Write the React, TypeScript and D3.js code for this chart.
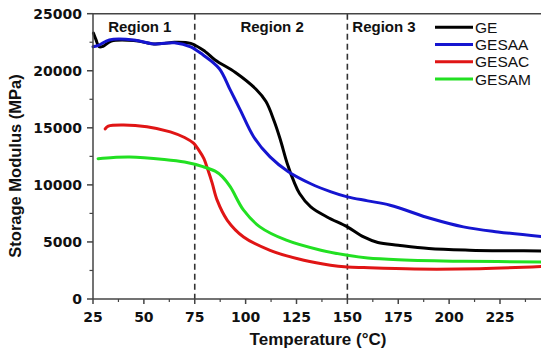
import * as d3 from "d3";

// temperature (°C), storage modulus (MPa)
const geData: [number, number][] = [
  [25.2, 23300], [26.5, 22700], [28, 22100], [30, 22150], [34, 22600], [45, 22650],
  [55, 22350], [60, 22400], [65, 22500], [73, 22400], [80, 21700], [85, 20950],
  [95, 19850], [105, 18400], [110, 17300], [114, 15600], [117, 14000], [120.4, 11900],
  [123.7, 10300], [126.5, 9250], [132, 8070], [140, 7190], [150, 6320], [158, 5440],
  [165, 4950], [175, 4710], [190, 4420], [210, 4280], [230, 4230], [247, 4210],
];
const gesaaData: [number, number][] = [
  [25, 22100], [28, 22250], [33, 22700], [45, 22700], [55, 22350], [65, 22450],
  [73, 22100], [79, 21400], [87, 20200], [92.5, 18300], [97.4, 16550], [104, 14200],
  [112, 12450], [121, 11150], [132, 10100], [142, 9390], [150, 8950], [160, 8600],
  [171, 8220], [191, 7050], [207, 6320], [224, 5880], [247, 5440],
];
const gesacData: [number, number][] = [
  [31, 14900], [32.5, 15150], [40, 15250], [51.5, 15100], [63, 14650], [70, 14150],
  [74.4, 13650], [77, 13050], [79.5, 12300], [81.5, 11300], [83.5, 10200], [86, 8660],
  [91, 6900], [99, 5440], [112, 4270], [128.6, 3390], [141.7, 2960], [150, 2810],
  [158, 2750], [183, 2620], [215, 2650], [247, 2870],
];
const gesamData: [number, number][] = [
  [27.5, 12300], [35, 12400], [43, 12450], [60, 12230], [70, 12000], [79, 11600],
  [85, 11200], [88.4, 10750], [92.5, 9820], [99, 7780], [107, 6320], [120, 5150],
  [137, 4270], [150, 3830], [160, 3600], [175, 3450], [207, 3310], [247, 3250],
];

const seriesNames = ["GE", "GESAA", "GESAC", "GESAM"];
const seriesColors = ["#000000", "#1515d0", "#e01515", "#22e022"];
const seriesData = [geData, gesaaData, gesacData, gesamData];

const xTicks = [25, 50, 75, 100, 125, 150, 175, 200, 225];
const yTicks = [0, 5000, 10000, 15000, 20000, 25000];
const regionLabels = ["Region 1", "Region 2", "Region 3"];
const regionCenters = [48, 113, 168]; // temperature at label centre
const regionBounds = [75, 150];

const W = 541, H = 352;
const left = 93, top = 13.7, bottom = 299;

export default function App() {
  const x = d3.scaleLinear().domain([25, 250]).range([left, left + 225 * 2.035]);
  const y = d3.scaleLinear().domain([0, 25000]).range([bottom, top]);
  const line = d3.line<[number, number]>()
    .x(d => x(d[0]))
    .y(d => y(d[1]))
    .curve(d3.curveCatmullRom.alpha(0.5));

  const xMinor = d3.range(37.5, 250, 25);
  const yMinor = d3.range(2500, 25000, 5000);
  const axisColor = "#444";
  const tickFont = "'DejaVu Sans', sans-serif";
  const titleFont = "'Liberation Sans', Arial, sans-serif";

  return (
    <svg width={W} height={H} style={{ position: "absolute", left: 0, top: 0, background: "#fff" }}>
      {/* region dividers */}
      {regionBounds.map(t => (
        <line key={t} x1={x(t)} x2={x(t)} y1={top} y2={bottom}
          stroke="#333" strokeWidth={1.6} strokeDasharray="6,4" />
      ))}

      {/* curves */}
      {seriesData.map((d, i) => (
        <path key={seriesNames[i]} d={line(d) ?? ""} fill="none"
          stroke={seriesColors[i]} strokeWidth={3} strokeLinejoin="round" strokeLinecap="round" />
      ))}

      {/* frame */}
      <line x1={left} x2={W} y1={top} y2={top} stroke={axisColor} strokeWidth={1.5} />
      <line x1={left} x2={W} y1={bottom} y2={bottom} stroke={axisColor} strokeWidth={1.5} />
      <line x1={left} x2={left} y1={top} y2={bottom} stroke={axisColor} strokeWidth={1.5} />

      {/* x ticks */}
      {xTicks.map(t => (
        <g key={t}>
          <line x1={x(t)} x2={x(t)} y1={bottom} y2={bottom + 5} stroke={axisColor} strokeWidth={1.5} />
          <text x={x(t)} y={321.5} textAnchor="middle" fontFamily={tickFont}
            fontWeight="bold" fontSize={14} fill="#111">{t}</text>
        </g>
      ))}
      {xMinor.map(t => (
        <line key={t} x1={x(t)} x2={x(t)} y1={bottom} y2={bottom + 3} stroke={axisColor} strokeWidth={1.2} />
      ))}

      {/* y ticks */}
      {yTicks.map(v => (
        <g key={v}>
          <line x1={left - 6} x2={left} y1={y(v)} y2={y(v)} stroke={axisColor} strokeWidth={1.5} />
          <text x={82} y={y(v)} dy="0.36em" textAnchor="end" fontFamily={tickFont}
            fontWeight="bold" fontSize={14} fill="#111">{v}</text>
        </g>
      ))}
      {yMinor.map(v => (
        <line key={v} x1={left - 3.5} x2={left} y1={y(v)} y2={y(v)} stroke={axisColor} strokeWidth={1.2} />
      ))}

      {/* axis titles */}
      <text x={318} y={345} textAnchor="middle" fontFamily={titleFont} fontWeight="bold"
        fontSize={17} fill="#111">Temperature (°C)</text>
      <text transform={`translate(21,166) rotate(-90)`} textAnchor="middle" fontFamily={titleFont}
        fontWeight="bold" fontSize={16.5} fill="#111">Storage Modulus (MPa)</text>

      {/* region labels */}
      {regionLabels.map((r, i) => (
        <text key={r} x={x(regionCenters[i])} y={32} textAnchor="middle" fontFamily={titleFont}
          fontWeight="bold" fontSize={15} fill="#111">{r}</text>
      ))}

      {/* legend */}
      {seriesNames.map((n, i) => (
        <g key={n} transform={`translate(0,${27.3 + i * 17.25})`}>
          <line x1={435} x2={473} y1={0} y2={0} stroke={seriesColors[i]} strokeWidth={3} />
          <text x={475} y={0} dy="0.36em" fontFamily={titleFont} fontSize={15.5} fill="#111">{n}</text>
        </g>
      ))}
    </svg>
  );
}
